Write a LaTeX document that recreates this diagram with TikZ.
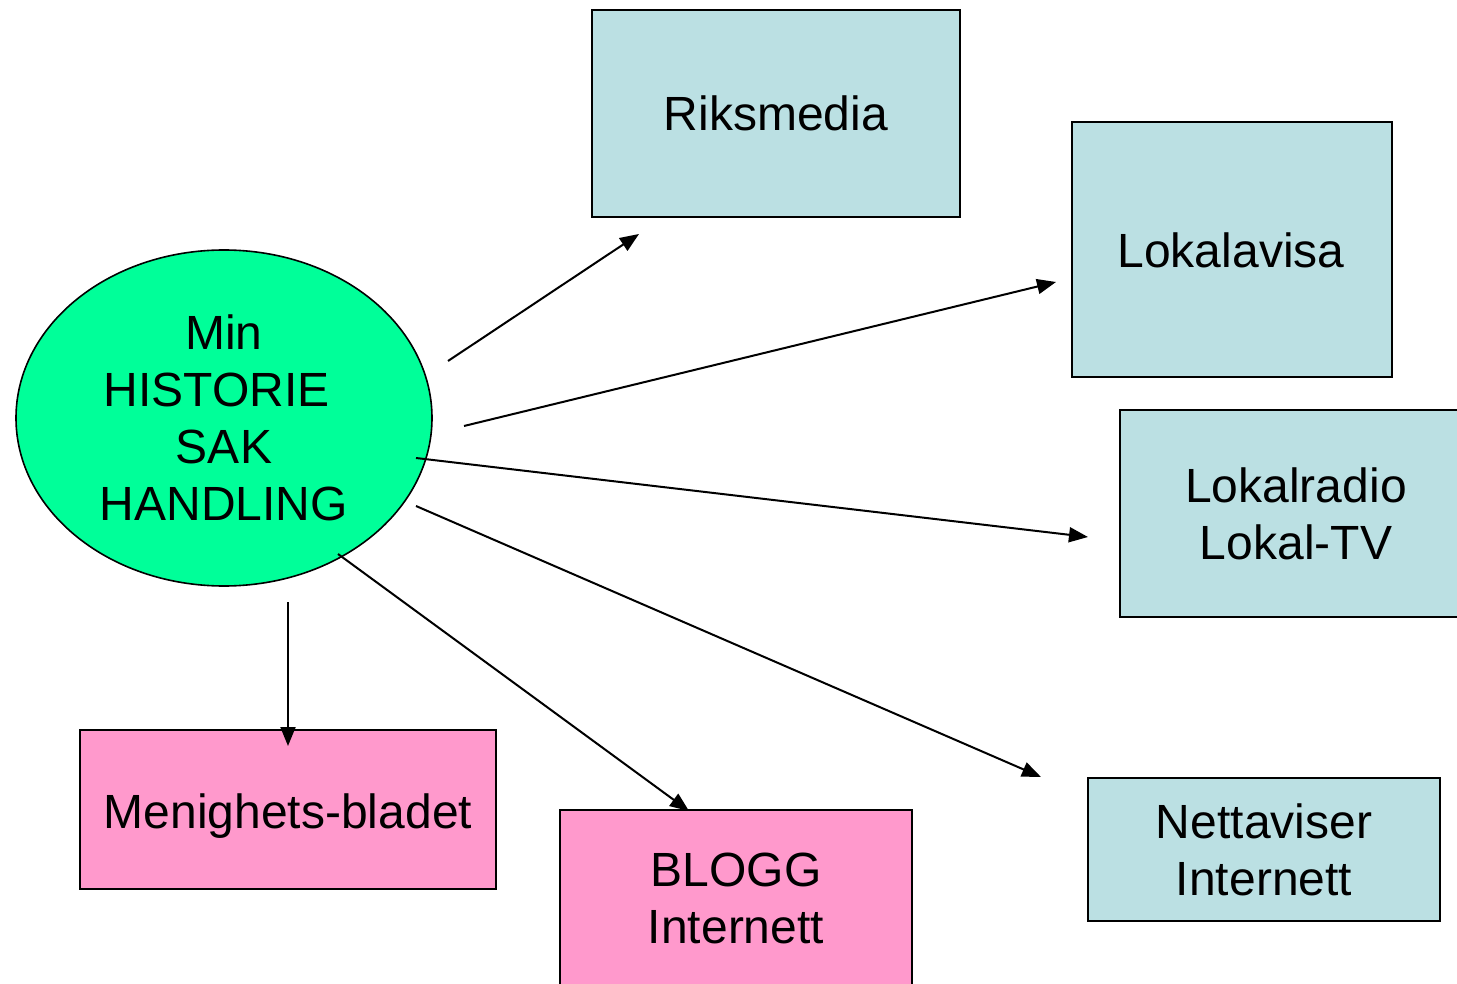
\documentclass[tikz,border=0pt]{standalone}
\usepackage{fontspec}
\setmainfont{Liberation Sans}
\usetikzlibrary{arrows.meta,shapes.geometric}
\definecolor{boxblue}{RGB}{187,224,227}
\definecolor{boxpink}{RGB}{255,153,204}
\definecolor{ellgreen}{RGB}{0,255,153}
\begin{document}
\begin{tikzpicture}[x=0.5pt,y=-0.5pt,
  lbl/.style={font=\fontsize{24pt}{28.5pt}\selectfont,align=center},
  box/.style={draw=black,line width=1pt},
  conn/.style={line width=1pt,-{Triangle[length=9.5pt,width=7.5pt]}}]
\useasboundingbox (0,0) rectangle (1457,984);
% ellipse
\filldraw[fill=ellgreen,draw=black,line width=0.8pt] (224,418) ellipse [x radius=208, y radius=168];
\node[lbl] (min) at (224,418) {Min\\HISTORIE\kern7.5pt\\SAK\\HANDLING};
% boxes
\filldraw[box,fill=boxblue] (592,10) rectangle (960,217);
\node[lbl] (riks) at (776,113) {Riksmedia};
\filldraw[box,fill=boxblue] (1072,122) rectangle (1392,377);
\node[lbl] (lokalavisa) at (1231,250) {Lokalavisa};
\filldraw[box,fill=boxblue] (1120,410) rectangle (1470,617);
\node[lbl] (radio) at (1296,514) {Lokalradio\\Lokal-TV};
\filldraw[box,fill=boxblue] (1088,778) rectangle (1440,921);
\node[lbl] (netta) at (1264,850) {Nettaviser\\Internett};
\filldraw[box,fill=boxpink] (80,730) rectangle (496,889);
\node[lbl] (menig) at (288,816) {Menighets-bladet};
\filldraw[box,fill=boxpink] (560,810) rectangle (912,1000);
\node[lbl] (blogg) at (736,898) {BLOGG\\Internett};
% connector endpoints
\coordinate (s1) at (448,361); \coordinate (e1) at (639,234);
\coordinate (s2) at (464,426); \coordinate (e2) at (1056,282);
\coordinate (s3) at (416,458); \coordinate (e3) at (1088,537);
\coordinate (s4) at (416,506); \coordinate (e4) at (1041,777);
\coordinate (s5) at (338,554); \coordinate (e5) at (689,811);
\coordinate (s6) at (288,602); \coordinate (e6) at (288,746);
\draw[conn] (s1) -- (e1);
\draw[conn] (s2) -- (e2);
\draw[conn] (s3) -- (e3);
\draw[conn] (s4) -- (e4);
\draw[conn] (s5) -- (e5);
\draw[conn] (s6) -- (e6);
\end{tikzpicture}
\end{document}
